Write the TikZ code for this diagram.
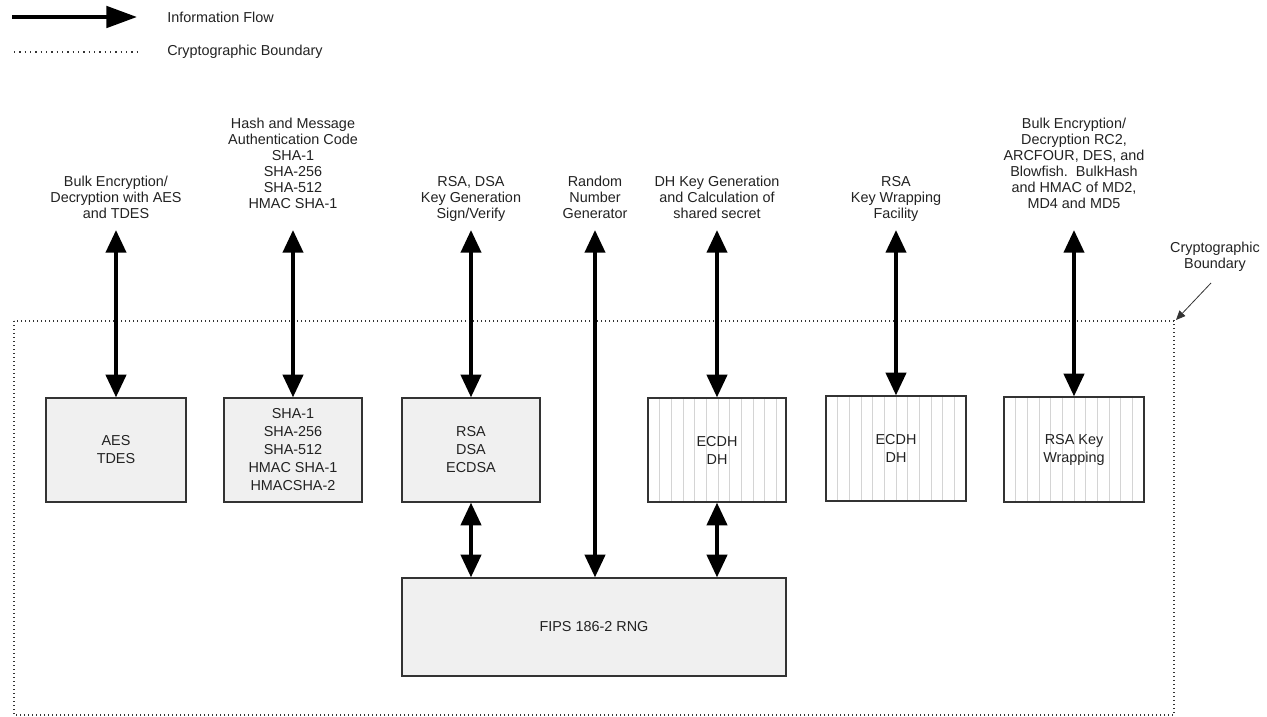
\documentclass[tikz,border=0pt]{standalone}
\usepackage{fontspec}
\setmainfont{Liberation Sans}
\usetikzlibrary{arrows.meta}
\definecolor{boxgray}{HTML}{F0F0F0}
\definecolor{edge}{HTML}{333333}
\definecolor{txt}{HTML}{222222}
\definecolor{stripe}{HTML}{D4D4D4}
\begin{document}
\begin{tikzpicture}[x=0.75pt,y=-0.75pt,
  every node/.style={font=\fontsize{10.8}{12}\selectfont, text=txt},
  lbl/.style={align=center, inner sep=0pt, anchor=north},
  boxtext/.style={font=\fontsize{10.8}{13.5}\selectfont},
  gbox/.style={boxtext, draw=edge, line width=0.9pt, fill=boxgray, align=center, inner sep=0pt},
  sbox/.style={boxtext, draw=edge, line width=0.9pt, fill=white, align=center, inner sep=0pt,
    path picture={\foreach \k in {1,...,16}{\draw[stripe, line width=0.4pt]
      ([xshift=\k*8.75pt]path picture bounding box.south west) --
      ([xshift=\k*8.75pt]path picture bounding box.north west);}}},
  flow/.style={line width=3pt, {Triangle[width=15pt,length=17pt]}-{Triangle[width=15pt,length=17pt]}},
  oneflow/.style={line width=3pt, -{Triangle[width=16pt,length=23pt]}},
  bound/.style={draw=edge, line width=1pt, dash pattern=on 1pt off 2pt}
]
\useasboundingbox (0,0) rectangle (1267,717);

% legend
\coordinate (la) at (12,17);
\coordinate (lb) at (137,17);
\draw[oneflow] (la) -- (lb);
\node[anchor=west, inner sep=0pt] (lflow) at (167,17) {Information Flow};
\coordinate (lc) at (14,52);
\coordinate (ld) at (138,52);
\draw[bound, dash pattern=on 1pt off 3pt] (lc) -- (ld);
\node[anchor=west, inner sep=0pt] (lbound) at (167,52) {Cryptographic Boundary};

% boundary
\coordinate (bnw) at (14,321);
\coordinate (bse) at (1174,715);
\draw[bound] (bnw) rectangle (bse);
\node[align=center, inner sep=0pt] (blbl) at (1215,257) {Cryptographic\\Boundary};
\coordinate (btip) at (1176,320);
\coordinate (btail) at (1211,283);
\draw[edge, line width=0.6pt, -{Triangle[width=6pt,length=7pt]}] (btail) -- (btip);

% boxes
\node[gbox, minimum width=105pt, minimum height=78pt] (aes) at (116,450) {AES\\TDES};
\node[gbox, minimum width=103.5pt, minimum height=78pt] (sha) at (293,450) {SHA-1\\SHA-256\\SHA-512\\HMAC SHA-1\\HMACSHA-2};
\node[gbox, minimum width=103.5pt, minimum height=78pt] (rsa) at (471,450) {RSA\\DSA\\ECDSA};
\node[sbox, minimum width=103.5pt, minimum height=78pt] (ecdh) at (717,450) {ECDH\\DH};
\node[sbox, minimum width=105pt, minimum height=78.75pt] (ecdhb) at (896,448.5) {ECDH\\DH};
\node[sbox, minimum width=105pt, minimum height=78.75pt] (rsakw) at (1074,449.5) {RSA Key\\Wrapping};
\node[gbox, minimum width=288pt, minimum height=73.5pt] (fips) at (594,627) {FIPS 186-2 RNG};

% labels
\node[lbl] (l1) at (116,176) {Bulk Encryption/\\Decryption with AES\\and TDES};
\node[lbl] (l2) at (293,118) {Hash and Message\\Authentication Code\\SHA-1\\SHA-256\\SHA-512\\HMAC SHA-1};
\node[lbl] (l3) at (471,176) {RSA, DSA\\Key Generation\\Sign/Verify};
\node[lbl] (l4) at (595,176) {Random\\Number\\Generator};
\node[lbl] (l5) at (717,176) {DH Key Generation\\and Calculation of\\shared secret};
\node[lbl] (l6) at (896,176) {RSA\\Key Wrapping\\Facility};
\node[lbl] (l7) at (1074,118) {Bulk Encryption/\\Decryption RC2,\\ARCFOUR, DES, and\\Blowfish.\ \ BulkHash\\and HMAC of MD2,\\MD4 and MD5};

% arrow top ends
\coordinate (t1) at (116,230);
\coordinate (t2) at (293,230);
\coordinate (t3) at (471,230);
\coordinate (t4) at (595,230);
\coordinate (t5) at (717,230);
\coordinate (t6) at (896,230);
\coordinate (t7) at (1074,230);

\draw[flow] (t1) -- (aes.north);
\draw[flow] (t2) -- (sha.north);
\draw[flow] (t3) -- (rsa.north);
\draw[flow] (t4) -- (t4 |- fips.north);
\draw[flow] (t5) -- (ecdh.north);
\draw[flow] (t6) -- (ecdhb.north);
\draw[flow] (t7) -- (rsakw.north);
\draw[flow] (rsa.south) -- (rsa.south |- fips.north);
\draw[flow] (ecdh.south) -- (ecdh.south |- fips.north);
\end{tikzpicture}
\end{document}
